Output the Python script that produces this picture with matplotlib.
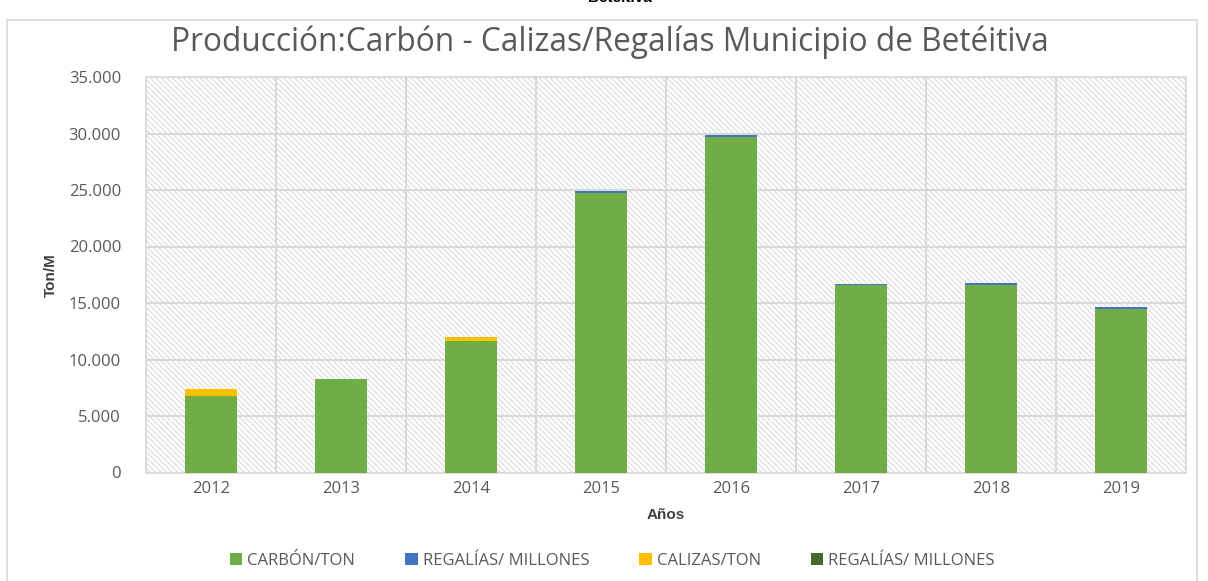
import matplotlib
matplotlib.use("Agg")
import matplotlib.pyplot as plt
import numpy as np
from matplotlib.ticker import FuncFormatter, FixedLocator
from matplotlib.patches import Rectangle

years = ["2012", "2013", "2014", "2015", "2016", "2017", "2018", "2019"]
carbon = [6800, 8250, 11650, 24700, 29650, 16550, 16600, 14450]
regalias_blue = [0, 0, 0, 180, 200, 150, 160, 200]
calizas = [550, 0, 300, 0, 0, 0, 0, 0]
regalias_dark = [60, 60, 60, 0, 0, 0, 0, 0]
labels = ["CARBÓN/TON", "REGALÍAS/ MILLONES", "CALIZAS/TON", "REGALÍAS/ MILLONES"]
colors = ["#70AD47", "#4472C4", "#FFC000", "#43682B"]

plt.rcParams['font.family'] = ['Open Sans', 'DejaVu Sans']
plt.rcParams['hatch.color'] = '#dedede'
plt.rcParams['hatch.linewidth'] = 0.9

fig = plt.figure(figsize=(12.08, 5.81), dpi=100)
ax = fig.add_axes([146/1208, 1-472.5/581, 1040/1208, (472.5-77)/581])

# chart border
fig.patches.append(Rectangle((7/1208, -0.05), 1190/1208, 1-20/581+0.05, transform=fig.transFigure,
                             fill=False, edgecolor='#d9d9d9', linewidth=1.2))
fig.text(0.513, 1.004, "Betéitiva", ha='center', va='center', fontsize=11, fontweight='bold',
         color='black', family=['Liberation Sans'])

ax.set_facecolor('white')
ax.add_patch(Rectangle((0, 0), 1, 1, transform=ax.transAxes, facecolor='white',
                       hatch='\\\\\\\\\\\\', edgecolor='#dedede', linewidth=0, zorder=0))

x = np.arange(len(years))
w = 0.4
bottom = np.zeros(len(years))
series = [carbon, regalias_blue, calizas, regalias_dark]
for vals, lab, col in zip(series, labels, colors):
    ax.bar(x, vals, w, bottom=bottom, color=col, label=lab, zorder=3, linewidth=0)
    bottom += np.array(vals)

ax.set_xlim(-0.5, len(years) - 0.5)
ax.set_ylim(0, 35000)
ax.set_yticks(np.arange(0, 35001, 5000))
ax.yaxis.set_major_formatter(FuncFormatter(lambda v, p: f"{int(v):,}".replace(",", ".")))
ax.set_xticks(x)
ax.set_xticklabels(years)
ax.xaxis.set_minor_locator(FixedLocator(np.arange(-0.5, len(years), 1.0)))
ax.grid(axis='y', which='major', color='#d9d9d9', linewidth=1.5, zorder=1)
ax.grid(axis='x', which='minor', color='#d9d9d9', linewidth=1.5, zorder=1)
ax.grid(axis='x', which='major', visible=False)
ax.set_axisbelow(True)
for s in ax.spines.values():
    s.set_color('#d9d9d9')
    s.set_linewidth(1.2)
ax.tick_params(axis='both', which='both', length=0, colors='#595959', labelsize=12)
ax.tick_params(axis='x', pad=6)
ax.tick_params(axis='y', pad=18)

ax.set_xlabel("Años", fontsize=11, fontweight='bold', color='#404040', family=['Liberation Sans'], labelpad=8)
ax.set_ylabel("Ton/M", fontsize=11, fontweight='bold', color='#404040', family=['Liberation Sans'], labelpad=8)

fig.text(0.505, 1-42/581, "Producción:Carbón - Calizas/Regalías Municipio de Betéitiva",
         ha='center', va='center', fontsize=22.8, color='#595959')

leg = fig.legend(loc='center', bbox_to_anchor=(0.507, 1-561/581), ncol=4, frameon=False,
                 fontsize=12, handlelength=0.75, handleheight=0.75, handletextpad=0.3, columnspacing=3.0)
for t in leg.get_texts():
    t.set_color('#595959')

fig.savefig("out.png", dpi=100)
